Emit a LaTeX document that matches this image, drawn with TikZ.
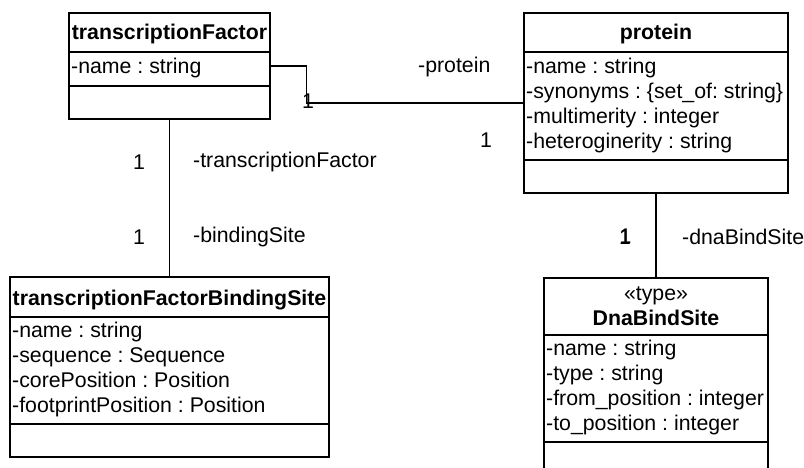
\documentclass[tikz,border=0pt]{standalone}
\usepackage{fontspec}
\setmainfont{Liberation Sans}
\frenchspacing
\begin{document}
\begin{tikzpicture}[x=1pt,y=-1pt,
  classbox/.style={draw=black,line width=1.6pt,inner sep=0pt,fill=white},
  divider/.style={draw=black,line width=1.6pt},
  assoc/.style={draw=black,line width=1.1pt},
  txt/.style={inner sep=0pt,font=\fontsize{21.3}{25}\selectfont\frenchspacing},
  ttl/.style={txt,font=\fontsize{21.3}{25}\selectfont\bfseries,anchor=base},
  attr/.style={txt,anchor=base west},
  lbl/.style={txt,anchor=west},
  mult/.style={txt,anchor=center}]
\useasboundingbox (0,0) rectangle (804,468);

\node[classbox,minimum width=201pt,minimum height=106pt] (tf) at (169.5,66) {};
\node[classbox,minimum width=264pt,minimum height=180pt] (protein) at (656,103) {};
\node[classbox,minimum width=319pt,minimum height=180pt] (tfbs) at (169.5,367) {};
\node[classbox,minimum width=224pt,minimum height=202pt] (dna) at (656,379) {};

\draw[assoc] (tf.east) -- ++(36,0) |- (protein.west);
\draw[assoc] (tf.south) -- (tfbs.north);
\draw[assoc] (protein.south) -- (dna.north);

% transcriptionFactor
\draw[divider] (tf.west |- 0,52) -- (tf.east |- 0,52);
\draw[divider] (tf.west |- 0,86) -- (tf.east |- 0,86);
\node[ttl] (tfT) at (169.5,39.5) {transcriptionFactor};
\node[attr] (tfA1) at (71,74) {-name : string};

% protein
\draw[divider] (protein.west |- 0,52) -- (protein.east |- 0,52);
\draw[divider] (protein.west |- 0,160) -- (protein.east |- 0,160);
\node[ttl] (pT) at (656,40) {protein};
\node[attr] (pA1) at (526,73.5) {-name : string};
\node[attr] (pA2) at (526,98.5) {-synonyms : \{set\_of: string\}};
\node[attr] (pA3) at (526,123.5) {-multimerity : integer};
\node[attr] (pA4) at (526,148.5) {-heteroginerity : string};

% transcriptionFactorBindingSite
\draw[divider] (tfbs.west |- 0,317) -- (tfbs.east |- 0,317);
\draw[divider] (tfbs.west |- 0,424) -- (tfbs.east |- 0,424);
\node[ttl] (bT) at (169.5,305) {transcriptionFactorBindingSite};
\node[attr] (bA1) at (12,337.5) {-name : string};
\node[attr] (bA2) at (12,362.5) {-sequence : Sequence};
\node[attr] (bA3) at (12,387.5) {-corePosition : Position};
\node[attr] (bA4) at (12,412.5) {-footprintPosition : Position};

% DnaBindSite
\draw[divider] (dna.west |- 0,335) -- (dna.east |- 0,335);
\draw[divider] (dna.west |- 0,442) -- (dna.east |- 0,442);
\node[txt,anchor=base] (dS) at (656,300) {«type»};
\node[ttl] (dT) at (656,325) {DnaBindSite};
\node[attr] (dA1) at (546,355.5) {-name : string};
\node[attr] (dA2) at (546,380.5) {-type : string};
\node[attr] (dA3) at (546,405.5) {-from\_position : integer};
\node[attr] (dA4) at (546,430.5) {-to\_position : integer};

% association labels
\node[lbl] (lProt) at (418,67) {-protein};
\node[mult] (m1) at (308,101.5) {1};
\node[mult] (m2) at (486,140) {1};
\node[mult] (m3) at (139,162) {1};
\node[lbl] (lTF) at (193,162) {-transcriptionFactor};
\node[mult] (m4) at (139,237) {1};
\node[lbl] (lBS) at (193,237) {-bindingSite};
\node[mult] (m5) at (625,237) {1};
\node[mult] (m5b) at (625.6,236.6) {1};
\node[lbl] (lDB) at (682,237) {-dnaBindSite};
\end{tikzpicture}
\end{document}
